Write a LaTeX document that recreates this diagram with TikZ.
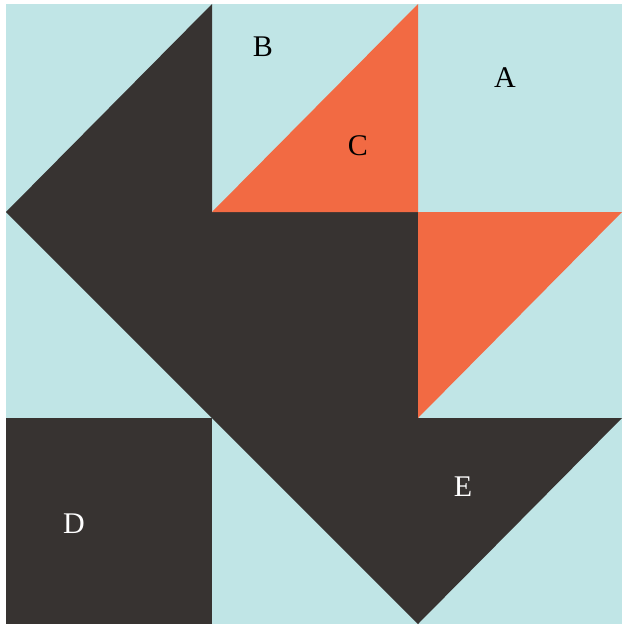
\documentclass[tikz,border=0pt]{standalone}
\usepackage{tikz}
\usepackage{xcolor}
\usepackage{fontspec}
\setmainfont{Liberation Serif}
\usetikzlibrary{positioning, calc}
\definecolor{quiltsky}{RGB}{192,229,230}
\definecolor{quiltdark}{RGB}{55,51,49}
\definecolor{quiltorange}{RGB}{242,106,67}

\tikzset{
    patchlabel/.style={font=\fontsize{30}{34}\selectfont, inner sep=0pt},
}

\begin{document}
\begin{tikzpicture}[x=1pt, y=-1pt]
        \useasboundingbox (0,0) rectangle (623,626);
        % background of the block
        \fill[quiltsky] (6,4) rectangle (622,624);
        % dark patches
        \fill[quiltdark] (212,4) -- (6,212) -- (212,212) -- cycle;
        \fill[quiltdark] (6,212) -- (418,212) -- (418,624) -- cycle;
        \fill[quiltdark] (6,418) rectangle (212,624);
        \fill[quiltdark] (418,418) -- (622,418) -- (418,624) -- cycle;
        % orange patches
        \fill[quiltorange] (418,4) -- (212,212) -- (418,212) -- cycle;
        \fill[quiltorange] (418,212) -- (622,212) -- (418,418) -- cycle;
        % labels
        \node[patchlabel] (labA) at (505,78) {A};
        \node[patchlabel] (labB) at (263,47) {B};
        \node[patchlabel] (labC) at (358,146) {C};
        \node[patchlabel, text=white] (labD) at (74,524) {D};
        \node[patchlabel, text=white] (labE) at (463,487) {E};
    \end{tikzpicture}
\end{document}
